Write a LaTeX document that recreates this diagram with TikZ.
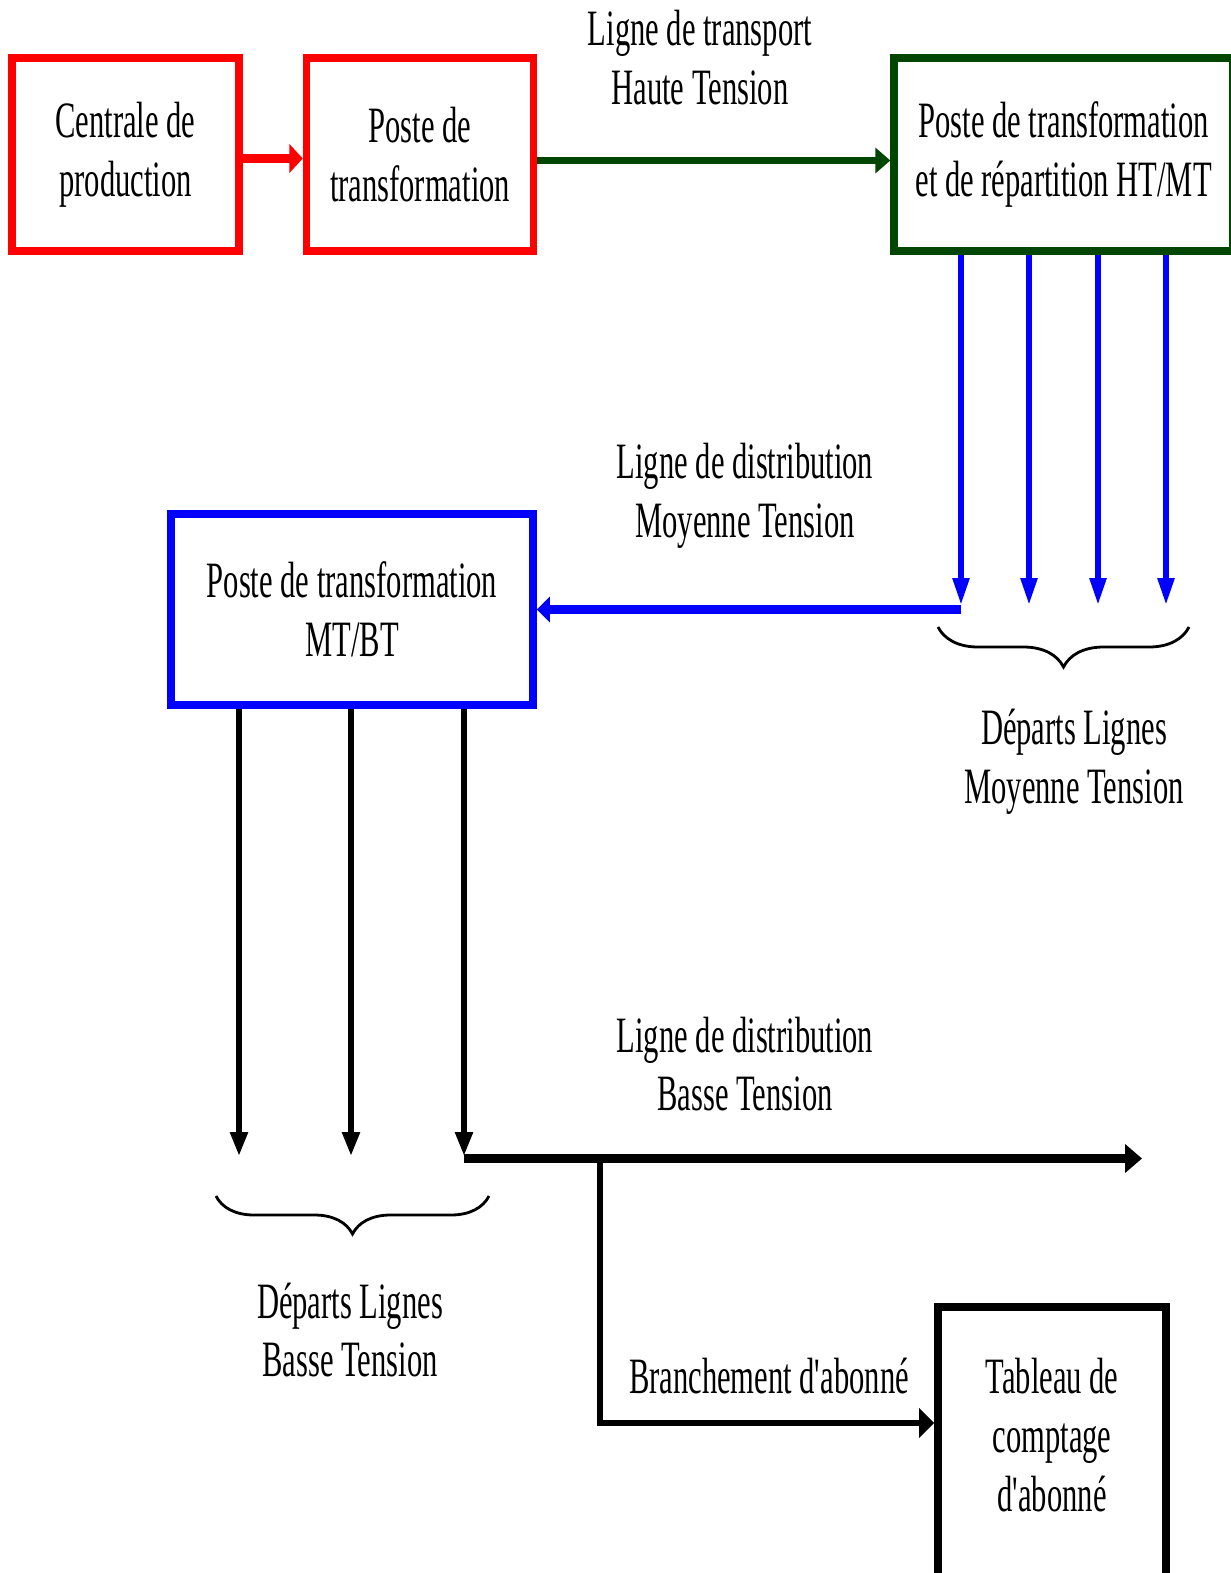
\documentclass[tikz,border=0pt]{standalone}
\usepackage{fontspec}
\setmainfont[FakeStretch=0.6]{Liberation Serif}
\usetikzlibrary{positioning, arrows.meta, decorations.pathreplacing}
\definecolor{dkgreen}{RGB}{0,70,0}
\newcommand{\quoteap}{\kern-0.01em\textquotesingle\kern-0.06em}
\tikzset{
    box/.style={draw, rectangle, line width=4.3pt, align=center, font=\fontsize{29}{33.5}\selectfont}, % frame of every poste
    redbox/.style={box, draw=red}, % production side
    greenbox/.style={box, draw=dkgreen}, % HT/MT
    bluebox/.style={box, draw=blue}, % MT/BT
    blackbox/.style={box, draw=black}, % abonne
    lbl/.style={align=center, font=\fontsize{29}{33.5}\selectfont}, % line labels
    redarrow/.style={draw=red, line width=0.17cm, -{Triangle[length=0.27cm, width=0.57cm]}},
    greenarrow/.style={draw=dkgreen, line width=0.14cm, -{Triangle[length=0.3cm, width=0.5cm]}},
    bluedown/.style={draw=blue, line width=0.11cm, -{Triangle[length=0.54cm, width=0.32cm]}},
    blueleft/.style={draw=blue, line width=0.17cm, -{Triangle[length=0.26cm, width=0.5cm]}},
    blackdown/.style={draw=black, line width=0.11cm, -{Triangle[length=0.48cm, width=0.34cm]}},
    blackright/.style={draw=black, line width=0.17cm, -{Triangle[length=0.34cm, width=0.56cm]}},
    branchline/.style={draw=black, line width=0.13cm, -{Triangle[length=0.3cm, width=0.58cm]}},
    bracket/.style={draw, line width=1.6pt, decorate, decoration={brace, amplitude=#1}}, % group of departs
}

\begin{document}
\begin{tikzpicture}
            \useasboundingbox (0,0) rectangle (24.62,-31.46);

            % boxes
            \node[redbox, minimum width=4.54cm, minimum height=3.86cm] (centrale) at (2.51,-3.09) {Centrale de\\production};
            \node[redbox, minimum width=4.54cm, minimum height=3.86cm, right=1.2cm of centrale] (poste) {Poste de\\transformation};
            \node[greenbox, minimum width=6.78cm, minimum height=3.86cm, right=7.06cm of poste] (repartition) {Poste de transformation\\et de répartition HT/MT};
            \node[bluebox, minimum width=7.24cm, minimum height=3.82cm] (mtbt) at (7.04,-12.19) {Poste de transformation\\MT/BT};
            \node[blackbox, minimum width=4.56cm, minimum height=5.56cm] (tableau) at (21.04,-28.92) {};
            \node[lbl] (tableautxt) at ([yshift=0.22cm]tableau.center) {Tableau de\\comptage\\d\quoteap abonné};

            % labels
            \node[lbl] (lblht) at (14.0,-1.15) {Ligne de transport\\Haute Tension};
            \node[lbl] (lblmt) at (14.9,-9.92) {Ligne de distribution\\Moyenne Tension};
            \node[lbl] (lbldmt) at (21.48,-15.24) {Départs Lignes\\Moyenne Tension};
            \node[lbl] (lblbt) at (14.9,-21.28) {Ligne de distribution\\Basse Tension};
            \node[lbl] (lbldbt) at (7.0,-26.6) {Départs Lignes\\Basse Tension};
            \node[lbl] (lblbranch) at (15.38,-27.52) {Branchement d\quoteap abonné};

            \coordinate (mt1) at (19.22,-12.1);
            \coordinate (mt2) at (20.58,-12.1);
            \coordinate (mt3) at (21.96,-12.1);
            \coordinate (mt4) at (23.32,-12.1);
            \coordinate (bt1) at (4.78,-23.12);
            \coordinate (bt2) at (7.02,-23.12);
            \coordinate (bt3) at (9.28,-23.12);
            \coordinate (btend) at (22.84,-23.17);
            \coordinate (branch) at (12.0,-23.17);
            \coordinate (abonne) at (12.0,-28.46);
            \coordinate (bmt1) at (23.78,-12.54);
            \coordinate (bmt2) at (18.76,-12.54);
            \coordinate (bbt1) at (9.78,-23.92);
            \coordinate (bbt2) at (4.32,-23.92);

            \path
                ([yshift=-0.08cm]centrale.east) edge[redarrow] ([yshift=-0.08cm]poste.west)
                ([yshift=-0.12cm]poste.east) edge[greenarrow] ([yshift=-0.12cm]repartition.west)
                (repartition.south -| mt1) edge[bluedown] (mt1)
                (repartition.south -| mt2) edge[bluedown] (mt2)
                (repartition.south -| mt3) edge[bluedown] (mt3)
                (repartition.south -| mt4) edge[bluedown] (mt4)
                (mtbt.east -| mt1) edge[blueleft] (mtbt.east)
                (mtbt.south -| bt1) edge[blackdown] (bt1)
                (mtbt.south -| bt2) edge[blackdown] (bt2)
                (mtbt.south -| bt3) edge[blackdown] (bt3)
                (btend -| bt3) edge[blackright] (btend);
            \draw[branchline] (branch) -- (abonne) -- (abonne -| tableau.west);

            \draw[bracket=0.8cm] (bmt1) -- (bmt2);
            \draw[bracket=0.76cm] (bbt1) -- (bbt2);
\end{tikzpicture}
\end{document}
